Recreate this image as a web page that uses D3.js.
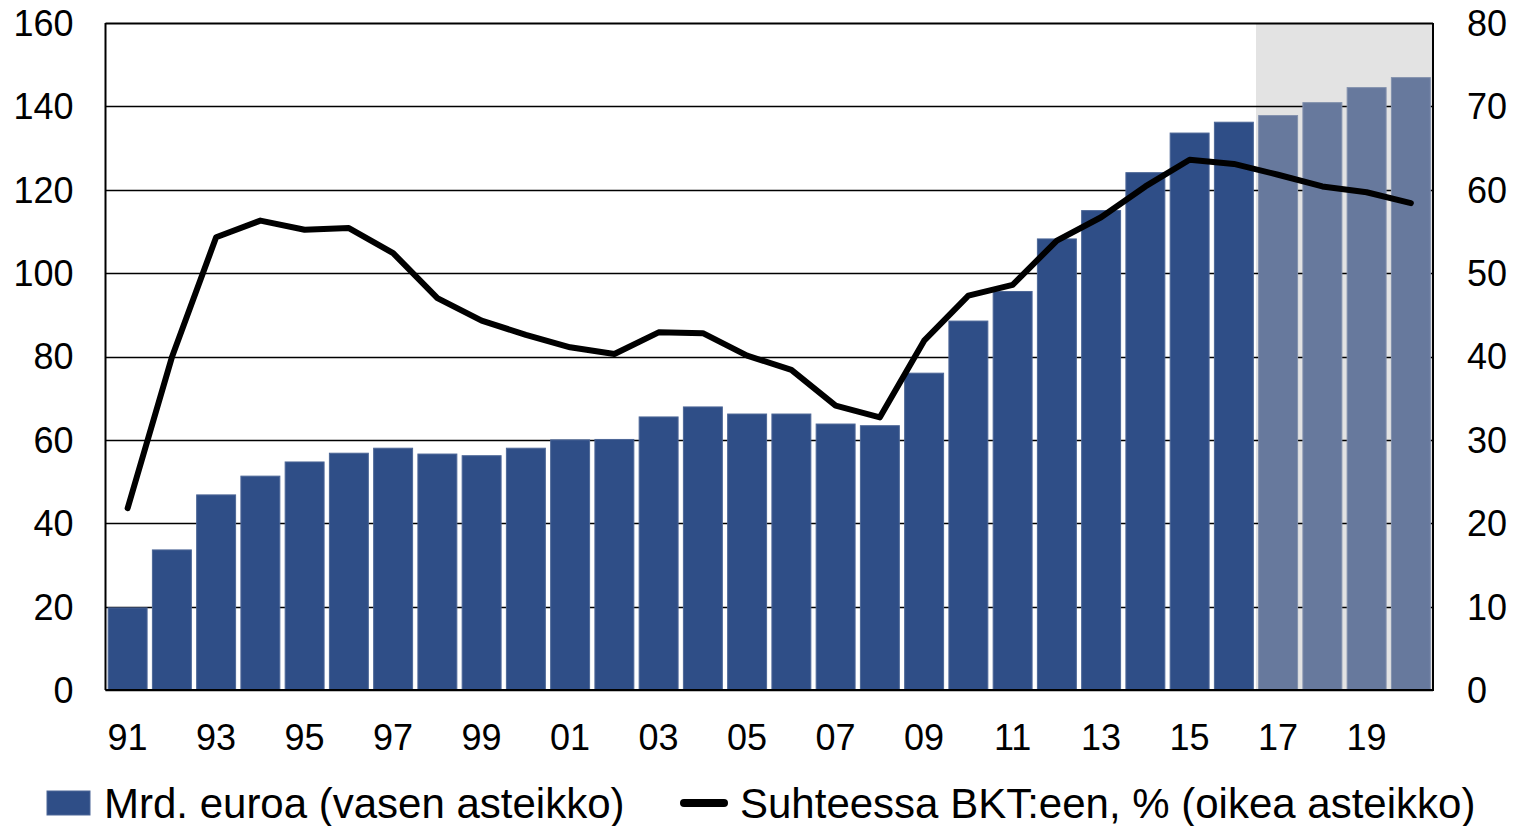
<!DOCTYPE html>
<html>
<head>
<meta charset="utf-8">
<script src="https://cdn.jsdelivr.net/npm/d3@7"></script>
<style>
  body { margin: 0; background: #fff; }
  svg { display: block; font-family: "Liberation Sans", Arial, sans-serif; }
</style>
</head>
<body>
<div id="chart"></div>
<script>
const years = d3.range(1991, 2021);
const debtBn = [19.7, 33.6, 46.8, 51.3, 54.7, 56.8, 58.0, 56.6, 56.2, 58.0,
                60.0, 60.1, 65.5, 67.9, 66.2, 66.2, 63.8, 63.4, 76.0, 88.5,
                95.6, 108.2, 115.0, 124.1, 133.6, 136.2, 137.8, 140.9, 144.5, 146.9];
const debtGdp = [21.8, 39.9, 54.3, 56.3, 55.2, 55.4, 52.4, 47.0, 44.3, 42.6,
                 41.1, 40.3, 42.9, 42.8, 40.1, 38.4, 34.1, 32.7, 41.9, 47.3,
                 48.6, 53.9, 56.7, 60.4, 63.6, 63.1, 61.8, 60.4, 59.7, 58.4];
const forecastFrom = 2017;
const leftTicks = [0, 20, 40, 60, 80, 100, 120, 140, 160];
const rightTicks = [0, 10, 20, 30, 40, 50, 60, 70, 80];
const legendLabels = ["Mrd. euroa (vasen asteikko)", "Suhteessa BKT:een, % (oikea asteikko)"];

const width = 1515, height = 826;
const margin = {top: 23, right: 82, bottom: 136, left: 105.5};
const innerW = width - margin.left - margin.right;
const innerH = height - margin.top - margin.bottom;

const svg = d3.select("#chart").append("svg")
    .attr("width", width)
    .attr("height", height);

const g = svg.append("g")
    .attr("transform", `translate(${margin.left},${margin.top})`);

const x = d3.scaleBand().domain(years).range([0, innerW]).paddingInner(0.12).paddingOuter(0.06);
const yL = d3.scaleLinear().domain([0, 160]).range([innerH, 0]);
const yR = d3.scaleLinear().domain([0, 80]).range([innerH, 0]);

// forecast shading
const shadeX = x(forecastFrom) - x.step() * x.paddingInner() / 2;
g.append("rect")
    .attr("x", shadeX)
    .attr("y", 0)
    .attr("width", innerW - shadeX)
    .attr("height", innerH)
    .attr("fill", "#e3e3e3");

// gridlines
g.append("g")
    .selectAll("line")
    .data(leftTicks)
    .enter().append("line")
    .attr("x1", 0)
    .attr("x2", innerW)
    .attr("y1", d => Math.round(yL(d)) + 0.5)
    .attr("y2", d => Math.round(yL(d)) + 0.5)
    .attr("stroke", "#000")
    .attr("stroke-width", d => d === 160 ? 2 : 1.3);

// bars
g.append("g")
    .selectAll("rect")
    .data(years)
    .enter().append("rect")
    .attr("x", d => x(d))
    .attr("width", x.bandwidth())
    .attr("y", (d, i) => yL(debtBn[i]))
    .attr("height", (d, i) => innerH - yL(debtBn[i]))
    .attr("fill", d => d >= forecastFrom ? "#67799d" : "#2f4e87")
    .attr("stroke", d => d >= forecastFrom ? "#8391ad" : "#4d6797")
    .attr("stroke-width", 1);

// frame
g.append("path")
    .attr("d", `M0,${innerH}V0M${innerW},0V${innerH}H0`)
    .attr("fill", "none")
    .attr("stroke", "#000")
    .attr("stroke-width", 2);

// line
const line = d3.line()
    .x((d, i) => x(years[i]) + x.bandwidth() / 2)
    .y(d => yR(d));

g.append("path")
    .datum(debtGdp)
    .attr("d", line)
    .attr("fill", "none")
    .attr("stroke", "#000")
    .attr("stroke-width", 6)
    .attr("stroke-linejoin", "round")
    .attr("stroke-linecap", "round");

// axes labels
const fontSize = 36;
g.append("g")
    .selectAll("text")
    .data(leftTicks)
    .enter().append("text")
    .attr("x", -32)
    .attr("y", d => yL(d))
    .attr("dy", "0.36em")
    .attr("text-anchor", "end")
    .attr("font-size", fontSize)
    .text(d => d);

g.append("g")
    .selectAll("text")
    .data(rightTicks)
    .enter().append("text")
    .attr("x", innerW + 34)
    .attr("y", d => yR(d))
    .attr("dy", "0.36em")
    .attr("text-anchor", "start")
    .attr("font-size", fontSize)
    .text(d => d);

g.append("g")
    .selectAll("text")
    .data(years.filter(d => d % 2 === 1))
    .enter().append("text")
    .attr("x", d => x(d) + x.bandwidth() / 2)
    .attr("y", innerH + 47)
    .attr("dy", "0.36em")
    .attr("text-anchor", "middle")
    .attr("font-size", fontSize)
    .text(d => String(d % 100).padStart(2, "0"));

// legend
const legend = svg.append("g").attr("font-size", 42);
legend.append("rect")
    .attr("x", 47).attr("y", 791)
    .attr("width", 43).attr("height", 24)
    .attr("fill", "#2f4e87")
    .attr("stroke", "#4d6797");
legend.append("text")
    .attr("x", 104).attr("y", 803)
    .attr("dy", "0.36em")
    .text(legendLabels[0]);
legend.append("line")
    .attr("x1", 684).attr("x2", 724)
    .attr("y1", 803).attr("y2", 803)
    .attr("stroke", "#000")
    .attr("stroke-width", 8)
    .attr("stroke-linecap", "round");
legend.append("text")
    .attr("x", 740).attr("y", 803)
    .attr("dy", "0.36em")
    .text(legendLabels[1]);
</script>
</body>
</html>
